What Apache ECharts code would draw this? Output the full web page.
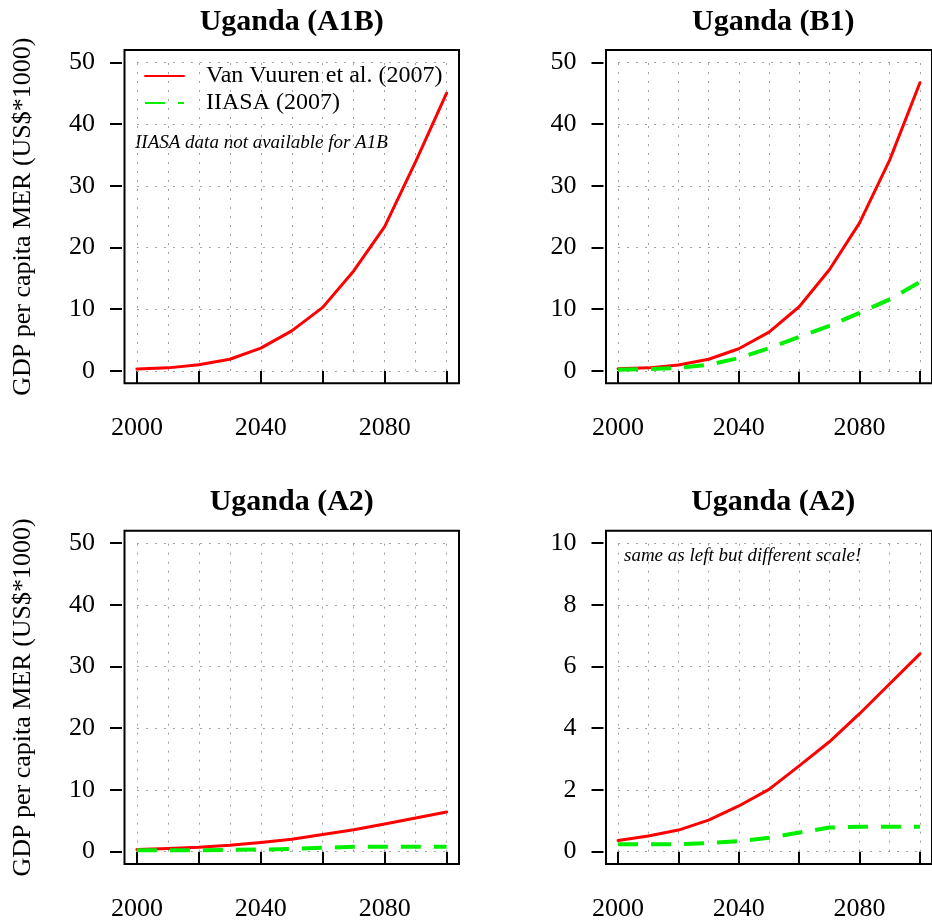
<!DOCTYPE html>
<html>
<head>
<meta charset="utf-8">
<script src="https://cdn.jsdelivr.net/npm/echarts@6/dist/echarts.min.js"></script>
<style>
  html, body { margin: 0; padding: 0; background: #fff; }
  #chart { width: 932px; height: 924px; }
</style>
</head>
<body>
<div id="chart"></div>
<script>
// GDP per capita (MER, thousand US$) for Uganda under three SRES scenarios
const years = [2000, 2010, 2020, 2030, 2040, 2050, 2060, 2070, 2080, 2090, 2100];

const vanVuurenA1B = [0.3, 0.5, 1.0, 1.9, 3.7, 6.5, 10.3, 16.2, 23.4, 33.9, 45.0];

const vanVuurenB1 = [0.35, 0.5, 0.95, 1.9, 3.6, 6.3, 10.4, 16.4, 24.0, 34.2, 46.7];
const iiasaB1 = [0.2, 0.3, 0.5, 1.0, 2.1, 3.7, 5.5, 7.3, 9.4, 11.6, 14.4];

const vanVuurenA2 = [0.36, 0.51, 0.70, 1.02, 1.48, 2.02, 2.78, 3.56, 4.47, 5.44, 6.41];
const iiasaA2 = [0.24, 0.24, 0.24, 0.28, 0.34, 0.45, 0.62, 0.78, 0.81, 0.81, 0.81];

const xTickValues = [2000, 2020, 2040, 2060, 2080, 2100];
const xLabelValues = [2000, 2040, 2080];
const gridYears = [2000, 2010, 2020, 2030, 2040, 2050, 2060, 2070, 2080, 2090, 2100];
const yTicksWide = [0, 10, 20, 30, 40, 50];
const yTicksNarrow = [0, 2, 4, 6, 8, 10];

const seriesNameVV = 'Van Vuuren et al. (2007)';
const seriesNameIIASA = 'IIASA (2007)';
const yAxisTitle = 'GDP per capita MER (US$*1000)';

const FONT = '"Liberation Serif", "Times New Roman", serif';
const RED = '#ff0000';
const GREEN = '#00f000';

function pairs(values) {
  return years.map((y, i) => [y, values[i]]);
}

// panel layout: plotting box positions
const panels = [
  { title: 'Uganda (A1B)', left: 124.5, top: 50,    yTicks: yTicksWide,   yMin: -2,   yMax: 52,   vv: vanVuurenA1B, ii: null,     yName: true },
  { title: 'Uganda (B1)',  left: 606,   top: 50,    yTicks: yTicksWide,   yMin: -2,   yMax: 52,   vv: vanVuurenB1,  ii: iiasaB1,  yName: false },
  { title: 'Uganda (A2)',  left: 124.5, top: 530.7, yTicks: yTicksWide,   yMin: -2,   yMax: 52,   vv: vanVuurenA2,  ii: iiasaA2,  yName: true },
  { title: 'Uganda (A2)',  left: 606,   top: 530.7, yTicks: yTicksNarrow, yMin: -0.4, yMax: 10.4, vv: vanVuurenA2,  ii: iiasaA2,  yName: false }
];
const boxW = 334.5, boxH = 333.3;

const grid = [], xAxis = [], yAxis = [], series = [], title = [];

const lineCommon = {
  type: 'line', showSymbol: false, symbol: 'none', symbolSize: 0,
  smooth: false, animation: false
};

panels.forEach((p, k) => {
  grid.push({
    left: p.left, top: p.top, width: boxW, height: boxH,
    show: true, borderColor: '#000', borderWidth: 2, backgroundColor: 'transparent'
  });
  title.push({
    text: p.title,
    left: p.left + boxW / 2,
    top: p.top - 43,
    textAlign: 'center',
    padding: 0,
    textStyle: { fontFamily: FONT, fontWeight: 'bold', fontSize: 30, color: '#000' }
  });
  xAxis.push({
    type: 'value', gridIndex: k, min: 1996, max: 2104, offset: 3,
    axisLine: { show: false },
    axisTick: { show: true, customValues: xTickValues, length: 12, lineStyle: { color: '#000', width: 2 } },
    axisLabel: {
      show: true, customValues: xLabelValues, margin: 29,
      fontFamily: FONT, fontSize: 26, color: '#000',
      formatter: v => String(v)
    },
    splitLine: { show: false }
  });
  yAxis.push({
    type: 'value', gridIndex: k, min: p.yMin, max: p.yMax, offset: 2.5,
    axisLine: { show: false },
    axisTick: { show: true, customValues: p.yTicks, length: 12, lineStyle: { color: '#000', width: 2 } },
    axisLabel: {
      show: true, customValues: p.yTicks, margin: 27,
      fontFamily: FONT, fontSize: 26, color: '#000',
      formatter: v => String(v)
    },
    splitLine: { show: false },
    name: p.yName ? yAxisTitle : '',
    nameLocation: 'middle', nameRotate: 90, nameGap: 86,
    nameTextStyle: { fontFamily: FONT, fontSize: 26, color: '#000' }
  });

  // dotted reference grid over the data range
  const yLo = p.yTicks[0], yHi = p.yTicks[p.yTicks.length - 1];
  const gridLines = [];
  gridYears.forEach(yr => gridLines.push([{ coord: [yr, yLo] }, { coord: [yr, yHi] }]));
  p.yTicks.forEach(v => gridLines.push([{ coord: [2000, v] }, { coord: [2100, v] }]));

  series.push(Object.assign({}, lineCommon, {
    name: seriesNameVV, xAxisIndex: k, yAxisIndex: k,
    data: pairs(p.vv),
    lineStyle: { color: RED, width: 3, join: 'round', cap: 'round' }, itemStyle: { color: RED },
    z: 3,
    markLine: {
      silent: true, symbol: ['none', 'none'], label: { show: false }, animation: false, z: 1,
      lineStyle: { color: '#a0a0a0', width: 1, type: [2, 7] },
      emphasis: { disabled: true },
      data: gridLines
    }
  }));
  if (p.ii) {
    series.push(Object.assign({}, lineCommon, {
      name: seriesNameIIASA, xAxisIndex: k, yAxisIndex: k,
      data: pairs(p.ii),
      lineStyle: { color: GREEN, width: 4, type: [20, 13] }, itemStyle: { color: GREEN },
      z: 4
    }));
  }
});

const chart = echarts.init(document.getElementById('chart'), null, { renderer: 'canvas' });
chart.setOption({
  backgroundColor: '#fff',
  animation: false,
  title,
  grid, xAxis, yAxis, series,
  legend: {
    data: [seriesNameVV, seriesNameIIASA],
    orient: 'vertical', left: 144, top: 64, padding: 0,
    itemWidth: 39, itemHeight: 14, itemGap: 3,
    selectedMode: false,
    itemStyle: { opacity: 0, borderWidth: 0 },
    textStyle: { fontFamily: FONT, fontSize: 24, color: '#000', padding: [0, 0, 0, 17] }
  },
  graphic: [
    {
      type: 'text', left: 135, top: 133, silent: true,
      style: { text: 'IIASA data not available for A1B', font: 'italic 19px ' + FONT, fill: '#000' }
    },
    {
      type: 'text', left: 624, top: 546, silent: true,
      style: { text: 'same as left but different scale!', font: 'italic 19px ' + FONT, fill: '#000' }
    }
  ]
});
</script>
</body>
</html>
